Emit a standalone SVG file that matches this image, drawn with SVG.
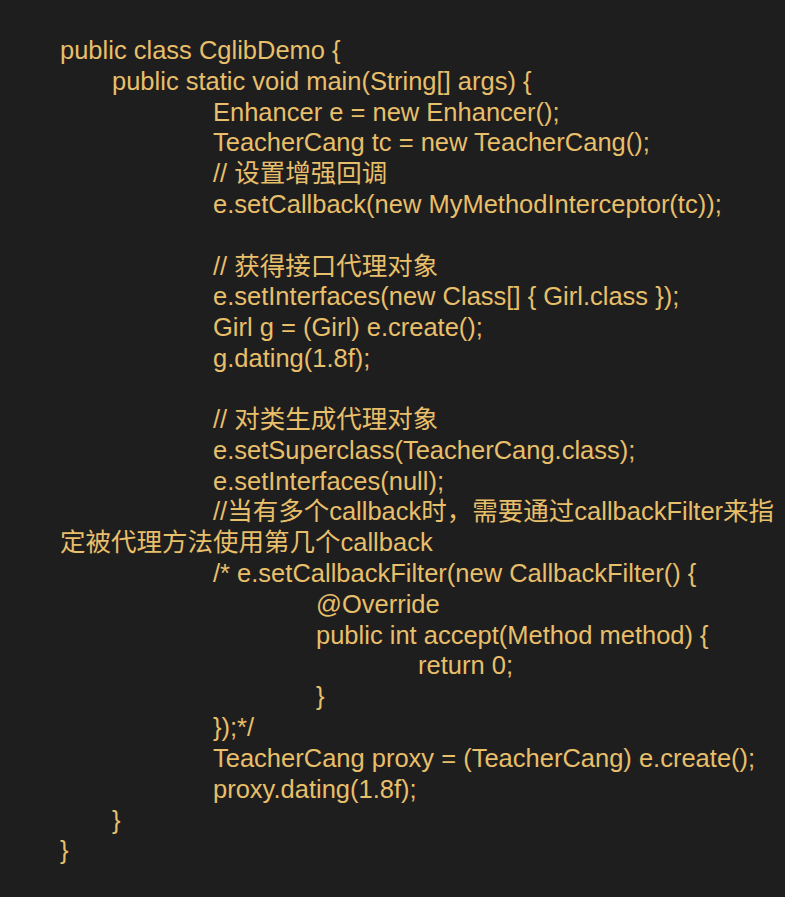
<svg xmlns="http://www.w3.org/2000/svg" width="785" height="897" viewBox="0 0 785 897">
<style>
text{font-family:"Liberation Sans","Noto Sans CJK SC",sans-serif;font-size:25.5px;fill:#e8bf6a;}
</style>
<rect width="785" height="897" fill="#1e1e1e"/>
<g id="code" transform="translate(0,1)">
<text x="60" y="58">public class CglibDemo {</text>
<text x="112" y="89">public static void main(String[] args) {</text>
<text x="213" y="119.5">Enhancer e = new Enhancer();</text>
<text x="213" y="150">TeacherCang tc = new TeacherCang();</text>
<text x="213" y="181">// 设置增强回调</text>
<text x="213" y="212">e.setCallback(new MyMethodInterceptor(tc));</text>
<text x="213" y="273.5">// 获得接口代理对象</text>
<text x="213" y="304">e.setInterfaces(new Class[] { Girl.class });</text>
<text x="213" y="335">Girl g = (Girl) e.create();</text>
<text x="213" y="366">g.dating(1.8f);</text>
<text x="213" y="427">// 对类生成代理对象</text>
<text x="213" y="457.5">e.setSuperclass(TeacherCang.class);</text>
<text x="213" y="488.5">e.setInterfaces(null);</text>
<text x="213" y="519">//当有多个callback时，需要通过callbackFilter来指</text>
<text x="60" y="550">定被代理方法使用第几个callback</text>
<text x="213" y="581">/* e.setCallbackFilter(new CallbackFilter() {</text>
<text x="316" y="612">@Override</text>
<text x="316" y="642.5">public int accept(Method method) {</text>
<text x="418" y="673">return 0;</text>
<text x="316" y="704">}</text>
<text x="213" y="735">});*/</text>
<text x="213" y="766">TeacherCang proxy = (TeacherCang) e.create();</text>
<text x="213" y="797">proxy.dating(1.8f);</text>
<text x="112" y="827.5">}</text>
<text x="60" y="858">}</text>
</g>
</svg>
